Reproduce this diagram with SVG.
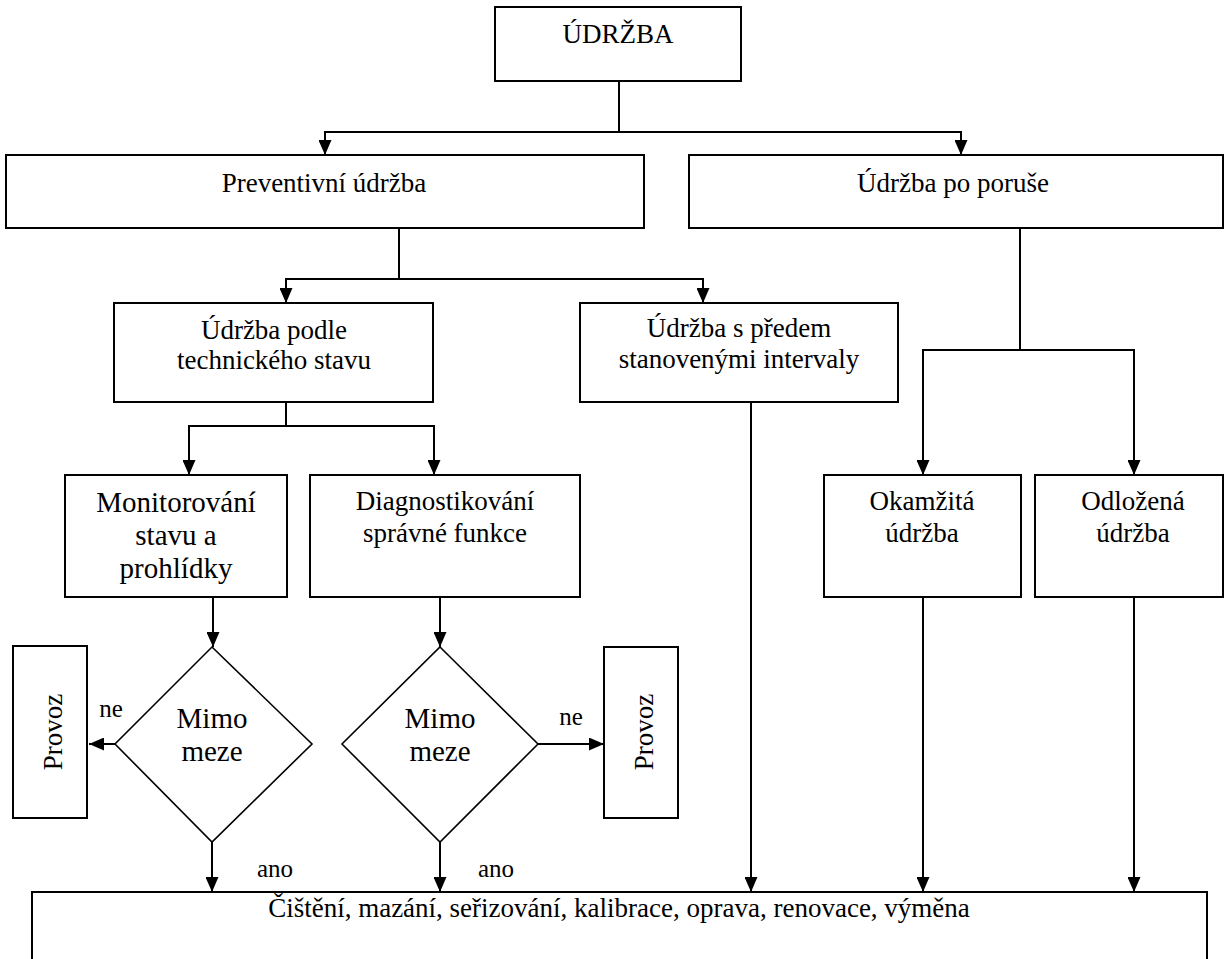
<svg xmlns="http://www.w3.org/2000/svg" width="1226" height="959" viewBox="0 0 1226 959">
<style>
.box{fill:#fff;stroke:#000;stroke-width:2}
.dia{fill:#fff;stroke:#000;stroke-width:1.6}
.t{font-family:"Liberation Serif","Times New Roman",serif;font-size:27px;fill:#000;text-anchor:middle}
.big{font-size:29px}
.lab{font-size:25px}
.c{fill:none;stroke:#000;stroke-width:2;marker-end:url(#ah)}
.l{fill:none;stroke:#000;stroke-width:2}
</style>
<defs>
<marker id="ah" markerUnits="userSpaceOnUse" markerWidth="15" markerHeight="13" refX="15" refY="6.5" orient="auto">
<path d="M0,0 L15,6.5 L0,13 z" fill="#000"/>
</marker>
</defs>
<rect width="1226" height="959" fill="#fff"/>
<g id="connectors">
<path class="c" d="M619,81 V132 H325 V155"/>
<path class="c" d="M619,132 H961 V155"/>
<path class="c" d="M399,228 V279 H286 V303"/>
<path class="c" d="M399,279 H703 V303"/>
<path class="c" d="M1020,228 V350 H923 V475"/>
<path class="c" d="M1020,350 H1134 V475"/>
<path class="c" d="M286,402 V426 H189 V475"/>
<path class="c" d="M286,426 H434 V475"/>
<path class="c" d="M213,597 V647"/>
<path class="c" d="M440,597 V647"/>
<path class="c" d="M115,744 H89"/>
<path class="c" d="M538,744 H604"/>
<path class="c" d="M212,842 V892"/>
<path class="c" d="M440,842 V892"/>
<path class="c" d="M751,402 V892"/>
<path class="c" d="M923,597 V892"/>
<path class="c" d="M1134,597 V892"/>
</g>
<g id="udrzba">
<rect class="box" x="495" y="7" width="246" height="74"/>
<text class="t" x="618" y="43">ÚDRŽBA</text>
</g>
<g id="preventivni">
<rect class="box" x="6" y="155" width="638" height="73"/>
<text class="t" x="324" y="192">Preventivní údržba</text>
</g>
<g id="po-poruse">
<rect class="box" x="689" y="155" width="534" height="73"/>
<text class="t" x="953" y="192">Údržba po poruše</text>
</g>
<g id="podle-stavu">
<rect class="box" x="114" y="303" width="319" height="99"/>
<text class="t" x="274" y="339">Údržba podle</text>
<text class="t" x="274" y="369">technického stavu</text>
</g>
<g id="intervaly">
<rect class="box" x="580" y="303" width="318" height="99"/>
<text class="t" x="739" y="337">Údržba s předem</text>
<text class="t" x="739" y="368">stanovenými intervaly</text>
</g>
<g id="monitorovani">
<rect class="box" x="65" y="475" width="222" height="122"/>
<text class="t big" x="176" y="512">Monitorování</text>
<text class="t big" x="176" y="545">stavu a</text>
<text class="t big" x="176" y="578">prohlídky</text>
</g>
<g id="diagnostikovani">
<rect class="box" x="310" y="475" width="270" height="122"/>
<text class="t" x="445" y="510">Diagnostikování</text>
<text class="t" x="445" y="542">správné funkce</text>
</g>
<g id="okamzita">
<rect class="box" x="824" y="475" width="197" height="122"/>
<text class="t" x="922" y="510">Okamžitá</text>
<text class="t" x="922" y="542">údržba</text>
</g>
<g id="odlozena">
<rect class="box" x="1035" y="475" width="188" height="122"/>
<text class="t" x="1133" y="510">Odložená</text>
<text class="t" x="1133" y="542">údržba</text>
</g>
<g id="mimo1">
<polygon class="dia" points="212,647 312,744 212,842 115,744"/>
<text class="t big" x="212" y="728">Mimo</text>
<text class="t big" x="212" y="761">meze</text>
</g>
<g id="mimo2">
<polygon class="dia" points="440,647 538,744 440,842 342,744"/>
<text class="t big" x="440" y="728">Mimo</text>
<text class="t big" x="440" y="761">meze</text>
</g>
<g id="provoz1">
<rect class="box" x="13" y="646" width="74" height="172"/>
<text class="t" transform="translate(62,732) rotate(-90)">Provoz</text>
</g>
<g id="provoz2">
<rect class="box" x="604" y="647" width="74" height="171"/>
<text class="t" transform="translate(653,732) rotate(-90)">Provoz</text>
</g>
<g id="labels">
<text class="t lab" x="111" y="717">ne</text>
<text class="t lab" x="571" y="725">ne</text>
<text class="t lab" x="275" y="877">ano</text>
<text class="t lab" x="496" y="877">ano</text>
</g>
<g id="cinnosti">
<rect class="box" x="32" y="892" width="1175" height="90"/>
<text class="t" x="619" y="917">Čištění, mazání, seřizování, kalibrace, oprava, renovace, výměna</text>
</g>
</svg>
